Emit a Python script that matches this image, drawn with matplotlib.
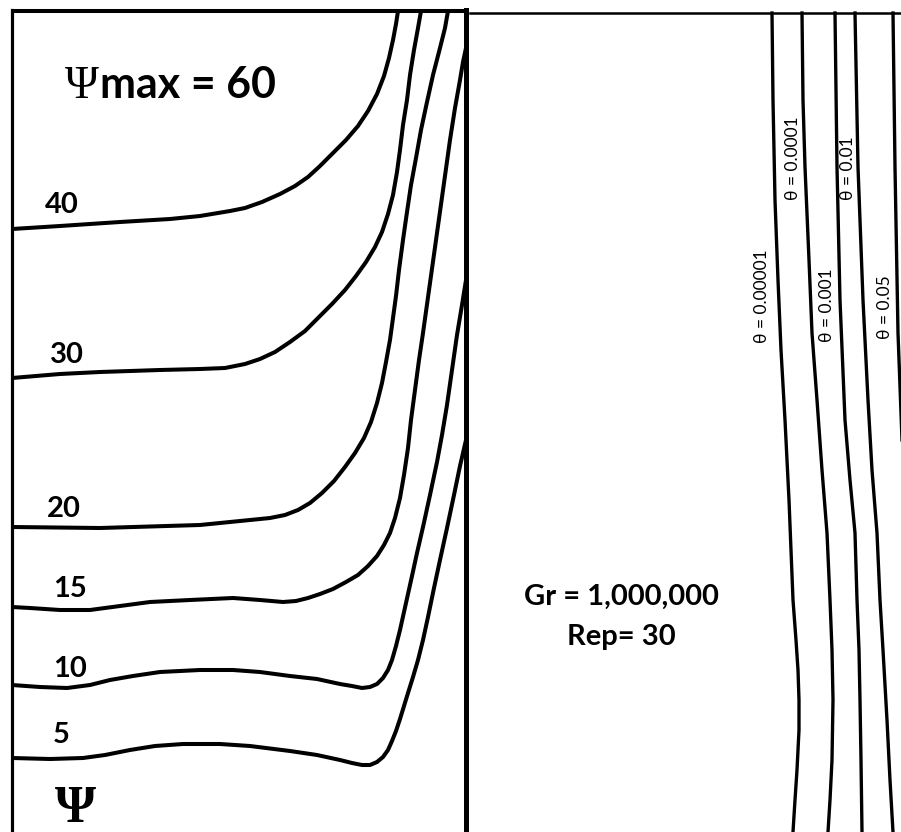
import matplotlib
matplotlib.use("Agg")
import matplotlib.pyplot as plt
import numpy as np

# streamlines (left panel), points in pixel coords (x right, y down)
psi_labels = ["40", "30", "20", "15", "10", "5"]
psi_40 = [(12, 229), (60, 226), (120, 222), (170, 219), (200, 216), (230, 211), (245, 208),
          (262, 202), (280, 194), (295, 186), (308, 177), (320, 166), (333, 153), (346, 140),
          (358, 126), (368, 111), (377, 94), (384, 76), (389, 58), (393, 40), (396, 24),
          (398, 11)]
psi_30 = [(12, 378), (60, 374), (100, 372), (160, 370), (200, 369), (225, 368), (245, 364),
          (260, 359), (275, 352), (290, 342), (305, 331), (318, 318), (332, 304), (345, 290),
          (356, 276), (366, 262), (375, 247), (382, 232), (388, 214), (393, 195), (397, 172),
          (400, 150), (403, 125), (407, 100), (410, 75), (414, 50), (418, 28), (421, 11)]
psi_20 = [(12, 527), (100, 528), (200, 525), (250, 520), (270, 518), (285, 515), (298, 510),
          (310, 503), (322, 493), (334, 481), (345, 467), (355, 453), (364, 438), (371, 422),
          (377, 403), (382, 383), (386, 362), (390, 340), (393, 318), (396, 296), (399, 270),
          (403, 240), (407, 212), (411, 185), (416, 158), (421, 130), (427, 102), (433, 75),
          (440, 48), (445, 28), (448, 11)]
psi_15 = [(12, 607), (30, 608), (60, 610), (90, 610), (120, 606), (150, 602), (190, 600),
          (233, 598), (260, 600), (283, 602), (296, 601), (308, 598), (320, 594), (333, 589),
          (346, 582), (358, 575), (368, 566), (377, 556), (384, 545), (390, 533), (395, 518),
          (400, 498), (404, 475), (408, 448), (411, 420), (415, 390), (419, 360), (423, 333),
          (430, 283), (437, 233), (444, 183), (450, 140), (455, 108), (460, 80), (463, 62),
          (466, 48)]
psi_10 = [(12, 685), (40, 687), (67, 688), (90, 685), (110, 680), (133, 676), (160, 672),
          (200, 670), (233, 670), (260, 672), (290, 676), (317, 679), (340, 684), (352, 686),
          (362, 688), (370, 687), (377, 684), (383, 678), (388, 670), (392, 660), (396, 646),
          (400, 630), (404, 612), (408, 594), (412, 576), (417, 553), (423, 527), (430, 495),
          (437, 462), (442, 435), (447, 405), (452, 370), (457, 335), (462, 305), (466, 280)]
psi_5 = [(12, 758), (50, 759), (83, 758), (105, 755), (130, 750), (155, 746), (183, 744),
         (220, 744), (250, 746), (290, 751), (317, 755), (340, 760), (352, 763), (362, 765),
         (370, 765), (377, 762), (383, 757), (388, 750), (392, 741), (396, 731), (400, 719),
         (404, 706), (408, 693), (413, 677), (418, 660), (423, 640), (428, 617), (434, 588),
         (440, 560), (447, 528), (454, 495), (460, 466), (466, 440)]
psi_lines = [psi_40, psi_30, psi_20, psi_15, psi_10, psi_5]
psi_label_pos = [(45, 213), (50, 363), (47, 517), (53, 597), (53, 677), (53, 743)]

# isotherms (right panel)
theta_labels = ["θ = 0.00001", "θ = 0.0001", "θ = 0.001", "θ = 0.01", "θ = 0.05"]
theta_1 = [(772, 13), (773, 100), (775, 200), (778, 280), (781, 350), (785, 420), (789, 500),
           (793, 600), (796, 640), (798, 670), (799, 700), (799, 730), (797, 770), (795, 800),
           (793, 832)]
theta_2 = [(802, 13), (803, 100), (805, 167), (809, 260), (812, 333), (817, 400), (822, 470),
           (827, 533), (830, 600), (832, 650), (833, 700), (832, 760), (830, 800), (828, 832)]
theta_3 = [(835, 13), (837, 167), (840, 300), (845, 420), (850, 480), (855, 533), (857, 600),
           (859, 650), (860, 700), (861, 760), (862, 832)]
theta_4 = [(855, 13), (858, 167), (863, 300), (868, 400), (872, 470), (877, 533), (880, 600),
           (883, 650), (887, 720), (890, 780), (893, 832)]
theta_5 = [(893, 13), (895, 167), (898, 333), (902, 440)]
theta_lines = [theta_1, theta_2, theta_3, theta_4, theta_5]
theta_label_pos = [(762, 296), (793, 158), (827, 305), (848, 168), (885, 307)]

fig = plt.figure(figsize=(9.01, 8.32), dpi=100)
ax = fig.add_axes([0, 0, 1, 1])
ax.set_xlim(0, 901)
ax.set_ylim(832, 0)
ax.axis("off")

# left box
ax.plot([12, 12], [10, 832], color="black", lw=2.3)
ax.plot([11, 467], [11, 11], color="black", lw=2.9, solid_capstyle="butt")
ax.plot([466, 466], [10, 832], color="black", lw=3.6)
# right panel top border
ax.plot([470, 901], [13, 13], color="black", lw=1.8)

for pts in psi_lines:
    pts = np.array(pts)
    ax.plot(pts[:, 0], pts[:, 1], color="black", lw=2.9, solid_joinstyle="round",
            solid_capstyle="butt")

for pts in theta_lines:
    pts = np.array(pts)
    ax.plot(pts[:, 0], pts[:, 1], color="black", lw=2.4, solid_joinstyle="round")

sans = ["Lato", "DejaVu Sans"]
for lab, (x, y) in zip(psi_labels, psi_label_pos):
    ax.text(x, y, lab, family=sans, fontweight="bold", fontsize=21,
            ha="left", va="baseline")

ax.text(65, 98, "Ψ", family="Liberation Serif", fontsize=33, ha="left", va="baseline")
ax.text(100, 98, "max = 60", family=sans, fontweight="bold", fontsize=31,
        ha="left", va="baseline")
ax.text(55, 822, "Ψ", family="Liberation Serif", fontweight="bold", fontsize=38,
        ha="left", va="baseline")

ax.text(621, 605, "Gr = 1,000,000", family=sans, fontweight="bold", fontsize=21,
        ha="center", va="baseline")
ax.text(621, 645, "Rep= 30", family=sans, fontweight="bold", fontsize=21,
        ha="center", va="baseline")

for lab, (x, y) in zip(theta_labels, theta_label_pos):
    ax.text(x, y, lab, family=sans, fontsize=12.5, rotation=90,
            ha="center", va="center")

fig.savefig("out.png", dpi=100)
